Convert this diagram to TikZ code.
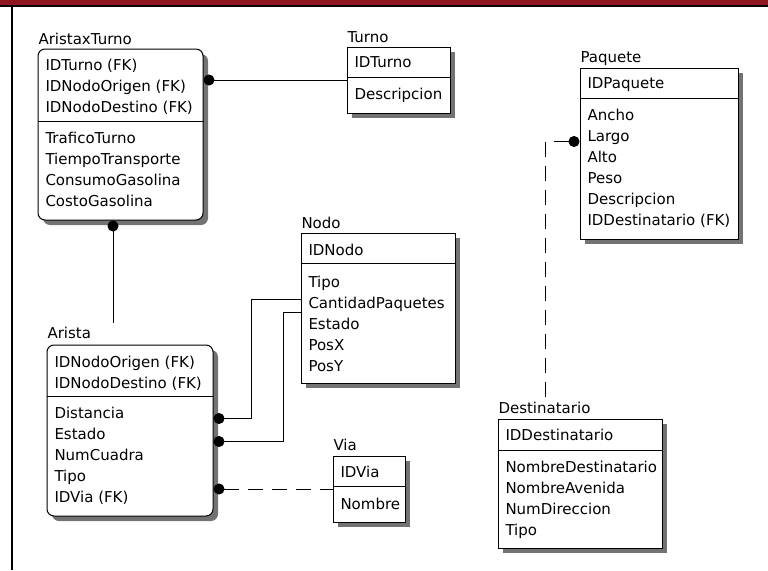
\documentclass[tikz,border=0pt]{standalone}
\usepackage{fontspec}
\setmainfont{DejaVu Sans}
\usepackage{xcolor}
\definecolor{barred}{RGB}{142,22,30}
\usetikzlibrary{shadows,arrows.meta}

\begin{document}
\begin{tikzpicture}[x=1pt, y=-1pt, line width=1pt,
  every node/.style={font=\fontsize{15}{17}\selectfont},
  entity/.style={draw, fill=white, inner sep=0pt,
    drop shadow={shadow xshift=5pt, shadow yshift=-5pt, fill=black!55, opacity=1}},
  depent/.style={entity, rounded corners=7pt},
  title/.style={anchor=base west, inner sep=0pt},
  attr/.style={anchor=base west, inner sep=0pt},
  rel/.style={{Circle[length=11pt]}-},
  nrel/.style={rel, dash pattern=on 15pt off 9pt}]
  \useasboundingbox (0,0) rectangle (768,570);

  % Frame
  \fill[barred] (0,0) rectangle (768,5);
  \fill (0,5) rectangle (768,7);
  \fill (11,7) rectangle (13,570);

  % AristaxTurno
  \node[title] (axtname) at (38,44) {AristaxTurno};
  \node[depent, minimum width=165pt, minimum height=171pt] (axt) at (120.5,134.5) {};
  \draw ([yshift=-73pt]axt.north west) -- ([yshift=-73pt]axt.north east);
  \node[attr] (axt1) at (45,70) {IDTurno (FK)};
  \node[attr] (axt2) at (45,91) {IDNodoOrigen (FK)};
  \node[attr] (axt3) at (45,112) {IDNodoDestino (FK)};
  \node[attr] (axt4) at (45,143) {TraficoTurno};
  \node[attr] (axt5) at (45,164) {TiempoTransporte};
  \node[attr] (axt6) at (45,185) {ConsumoGasolina};
  \node[attr] (axt7) at (45,206) {CostoGasolina};

  % Turno
  \node[title] (turnoname) at (347,42) {Turno};
  \node[entity, minimum width=103pt, minimum height=66pt] (turno) at (398.5,80) {};
  \draw ([yshift=-31pt]turno.north west) -- ([yshift=-31pt]turno.north east);
  \node[attr] (turno1) at (354,67) {IDTurno};
  \node[attr] (turno2) at (354,99) {Descripcion};

  % Paquete
  \node[title] (paqname) at (580,62) {Paquete};
  \node[entity, minimum width=158pt, minimum height=171pt] (paquete) at (659,153.5) {};
  \draw ([yshift=-31pt]paquete.north west) -- ([yshift=-31pt]paquete.north east);
  \node[attr] (paq1) at (587,88) {IDPaquete};
  \node[attr] (paq2) at (587,120) {Ancho};
  \node[attr] (paq3) at (587,141) {Largo};
  \node[attr] (paq4) at (587,162) {Alto};
  \node[attr] (paq5) at (587,183) {Peso};
  \node[attr] (paq6) at (587,204) {Descripcion};
  \node[attr] (paq7) at (587,225) {IDDestinatario (FK)};

  % Nodo
  \node[title] (nodoname) at (301,228) {Nodo};
  \node[entity, minimum width=154pt, minimum height=150pt] (nodo) at (378,308) {};
  \draw ([yshift=-31pt]nodo.north west) -- ([yshift=-31pt]nodo.north east);
  \node[attr] (nodo1) at (308,255) {IDNodo};
  \node[attr] (nodo2) at (308,287) {Tipo};
  \node[attr] (nodo3) at (308,308) {CantidadPaquetes};
  \node[attr] (nodo4) at (308,329) {Estado};
  \node[attr] (nodo5) at (308,350) {PosX};
  \node[attr] (nodo6) at (308,371) {PosY};

  % Arista
  \node[title] (aristaname) at (47,338) {Arista};
  \node[depent, minimum width=166pt, minimum height=171pt] (arista) at (130,430.5) {};
  \draw ([yshift=-52pt]arista.north west) -- ([yshift=-52pt]arista.north east);
  \node[attr] (arista1) at (54,367) {IDNodoOrigen (FK)};
  \node[attr] (arista2) at (54,388) {IDNodoDestino (FK)};
  \node[attr] (arista3) at (54,418) {Distancia};
  \node[attr] (arista4) at (54,439) {Estado};
  \node[attr] (arista5) at (54,460) {NumCuadra};
  \node[attr] (arista6) at (54,481) {Tipo};
  \node[attr] (arista7) at (54,502) {IDVia (FK)};

  % Via
  \node[title] (vianame) at (333,450) {Via};
  \node[entity, minimum width=72pt, minimum height=66pt] (via) at (369,489) {};
  \draw ([yshift=-31pt]via.north west) -- ([yshift=-31pt]via.north east);
  \node[attr] (via1) at (340,477) {IDVia};
  \node[attr] (via2) at (340,509) {Nombre};

  % Destinatario
  \node[title] (destname) at (498,413) {Destinatario};
  \node[entity, minimum width=164pt, minimum height=129pt] (dest) at (580,483.5) {};
  \draw ([yshift=-32pt]dest.north west) -- ([yshift=-32pt]dest.north east);
  \node[attr] (dest1) at (505,440) {IDDestinatario};
  \node[attr] (dest2) at (505,472) {NombreDestinatario};
  \node[attr] (dest3) at (505,493) {NombreAvenida};
  \node[attr] (dest4) at (505,514) {NumDireccion};
  \node[attr] (dest5) at (505,535) {Tipo};

  % Relationships
  \coordinate (axtend) at (113,323);
  \coordinate (bend1) at (251,299);
  \coordinate (bend2) at (283,312);
  \coordinate (destend) at (545,398);
  \draw[rel] (axt.east |- turno.west) -- (turno.west);
  \draw[rel] (axt.south -| axtend) -- (axtend);
  \draw[rel] ([yshift=-74pt]arista.north east) -| (bend1) -- (nodo.west |- bend1);
  \draw[rel] ([yshift=-97pt]arista.north east) -| (bend2) -- (nodo.west |- bend2);
  \draw[nrel] (arista.east |- via.west) -- (via.west);
  \draw[nrel] ([yshift=-74pt]paquete.north west) -| (destend);
\end{tikzpicture}
\end{document}
